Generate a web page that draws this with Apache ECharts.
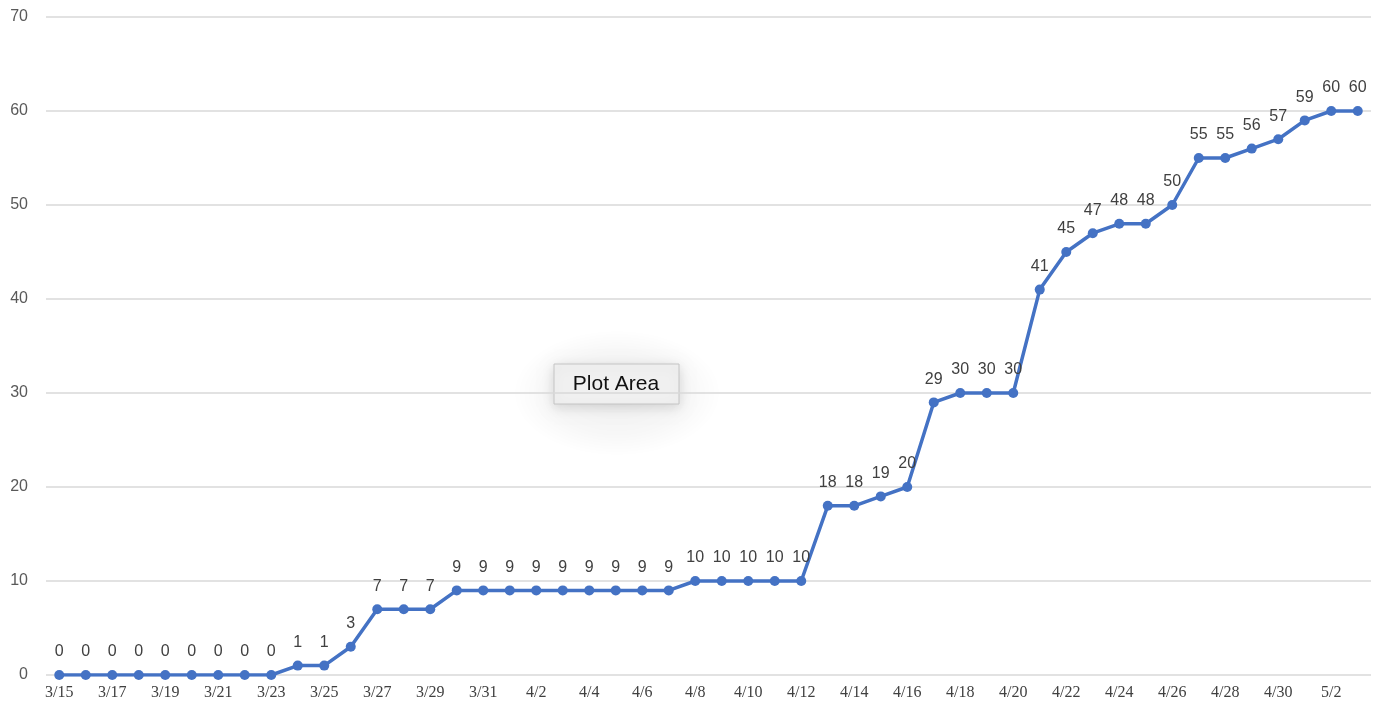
<!DOCTYPE html>
<html>
<head>
<meta charset="utf-8">
<script src="https://cdn.jsdelivr.net/npm/echarts@6/dist/echarts.min.js"></script>
<style>
html,body{margin:0;padding:0;background:#fff;}
#chart{width:1384px;height:709px;}
</style>
</head>
<body>
<div id="chart"></div>
<script>
const categories = ['3/15','3/16','3/17','3/18','3/19','3/20','3/21','3/22','3/23','3/24','3/25','3/26','3/27','3/28','3/29','3/30','3/31',
  '4/1','4/2','4/3','4/4','4/5','4/6','4/7','4/8','4/9','4/10','4/11','4/12','4/13','4/14','4/15','4/16','4/17','4/18','4/19','4/20',
  '4/21','4/22','4/23','4/24','4/25','4/26','4/27','4/28','4/29','4/30','5/1','5/2','5/3'];
const values = [0,0,0,0,0,0,0,0,0,1,1,3,7,7,7,9,9,9,9,9,9,9,9,9,10,10,10,10,10,18,18,19,20,29,30,30,30,41,45,47,48,48,50,55,55,56,57,59,60,60];
const yTicks = {min:0, max:70, interval:10};

const chart = echarts.init(document.getElementById('chart'), null, {renderer:'canvas'});
chart.setOption({
  animation:false,
  grid:{left:46, right:13, top:17, bottom:34, containLabel:false},
  xAxis:{
    type:'category', data:categories, boundaryGap:true,
    axisLine:{show:false}, axisTick:{show:false},
    axisLabel:{interval:1, color:'#404040', fontFamily:'Liberation Serif', fontSize:16, margin:10}
  },
  yAxis:{
    type:'value', min:yTicks.min, max:yTicks.max, interval:yTicks.interval,
    axisLine:{show:false}, axisTick:{show:false},
    splitLine:{lineStyle:{color:'#d9d9d9', width:1.5}},
    axisLabel:{color:'#595959', fontFamily:'Liberation Sans', fontSize:16, margin:18}
  },
  series:[{
    type:'line', data:values,
    symbol:'circle', symbolSize:10,
    lineStyle:{color:'#4472C4', width:3.5},
    itemStyle:{color:'#4472C4'},
    label:{show:true, position:'top', distance:10, color:'#404040', fontFamily:'Liberation Sans', fontSize:16}
  }],
  graphic:[
    {type:'circle', x:617, y:393, scaleX:1.65, scaleY:1, shape:{cx:0, cy:0, r:63}, silent:true,
      style:{fill:{type:'radial', x:0.5, y:0.5, r:0.5, colorStops:[{offset:0, color:'rgba(0,0,0,0.06)'},{offset:0.65, color:'rgba(0,0,0,0.03)'},{offset:1, color:'rgba(0,0,0,0)'}]}}},
    {type:'rect', shape:{x:554, y:364, width:125, height:40}, style:{fill:'#f0f0f0', stroke:'#c4c4c4', lineWidth:1, shadowBlur:12, shadowColor:'rgba(0,0,0,0.15)', shadowOffsetY:3}},
    {type:'text', x:616, y:384, style:{text:'Plot Area', fill:'#111', font:'21px "Liberation Sans", Arial, sans-serif', align:'center', verticalAlign:'middle'}}
  ]
});
</script>
</body>
</html>
